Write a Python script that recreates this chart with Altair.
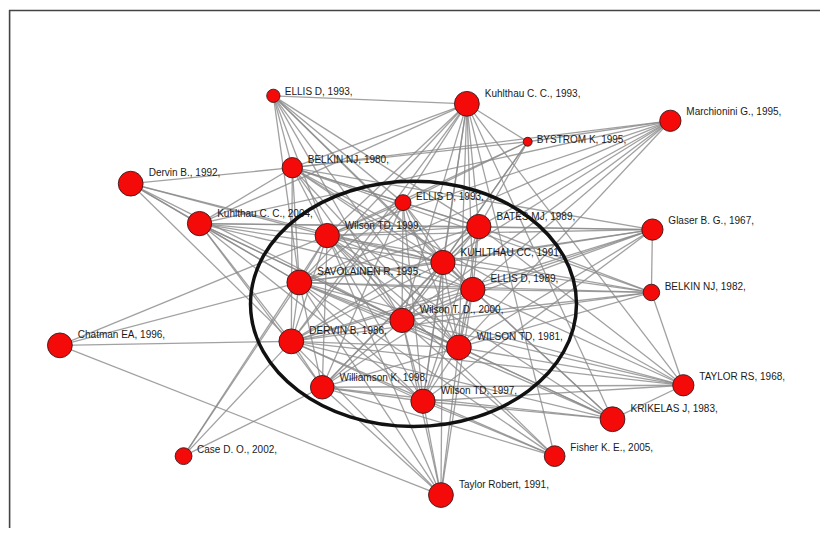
import altair as alt
import pandas as pd

# ---- data -------------------------------------------------------------
labels = [
    "ELLIS D, 1993,", "Kuhlthau C. C., 1993,", "Marchionini G., 1995,", "BYSTROM K, 1995,",
    "Dervin B., 1992,", "BELKIN NJ, 1980,", "Kuhlthau C. C., 2004,", "ELLIS D, 1993,",
    "Wilson TD, 1999,", "BATES MJ, 1989,", "Glaser B. G., 1967,", "KUHLTHAU CC, 1991,",
    "SAVOLAINEN R, 1995,", "ELLIS D, 1989,", "BELKIN NJ, 1982,", "Chatman EA, 1996,",
    "DERVIN B, 1986,", "Wilson T. D., 2000,", "WILSON TD, 1981,", "Williamson K, 1998,",
    "Wilson TD, 1997,", "TAYLOR RS, 1968,", "KRIKELAS J, 1983,", "Case D. O., 2002,",
    "Fisher K. E., 2005,", "Taylor Robert, 1991,",
]
node_x = [273, 467, 671, 528, 130, 292, 199, 403, 327, 479, 653, 443, 299, 473, 652, 59,
          291, 402, 459, 322, 423, 684, 613, 183, 555, 441]
node_y = [96, 104, 121, 142, 184, 168, 224, 203, 236, 227, 230, 263, 283, 290, 293, 346,
          342, 321, 348, 388, 402, 386, 420, 457, 457, 496]
node_r = [7.5, 14, 12, 5, 14, 11.5, 13.7, 9, 13.7, 13.7, 12, 13.7, 14, 13.7, 9.3, 14,
          14, 13.7, 14, 13.3, 13.7, 12, 14, 9.5, 11.7, 14]

core = [7, 8, 9, 11, 12, 13, 16, 17, 18, 19, 20]
outer_links = {
    0: [1, 5, 8, 9, 11, 13, 17, 18, 7, 12],
    1: [5, 8, 7, 9, 11, 12, 13, 17, 18, 20, 3, 21, 22, 24, 16, 6],
    2: [3, 9, 11, 13, 17, 8, 12, 6, 18, 5],
    3: [5, 8, 7, 9, 11, 17],
    4: [5, 6, 8, 12, 16, 17, 11],
    5: [6, 8, 7, 9, 11, 12, 13, 16, 17, 18, 10, 21, 14],
    6: [8, 12, 16, 17, 11, 9, 13, 18, 10, 19, 20],
    10: [9, 8, 11, 13, 17, 12, 16, 18, 20, 14],
    14: [21, 9, 11, 13, 17, 8, 12, 16, 18],
    15: [12, 16, 25, 8],
    21: [20, 18, 17, 13, 22, 12, 16, 19, 9],
    22: [20, 19, 16, 18, 17, 12, 8, 13, 11],
    23: [12, 16, 19, 8],
    24: [8, 17, 19, 12, 16, 20],
    25: [20, 19, 16, 17, 18, 13, 12, 11, 8],
}

ellipse_cx = [413.5]
ellipse_cy = [304.5]
ellipse_w = [326]

# ---- tables -----------------------------------------------------------
nodes = pd.DataFrame({"label": labels, "x": node_x, "y": node_y, "r": node_r})
nodes["area"] = 3.14159 * (2 * nodes["r"]) ** 2 / 4
nodes["lx"] = nodes["x"] + nodes["r"] + 4
nodes["ly"] = nodes["y"] - (nodes["r"] * 0.95 - 3)

pairs = []
for i in range(len(core)):
    for j in range(i + 1, len(core)):
        pairs.append((core[i], core[j]))
for a, bs in outer_links.items():
    for b in bs:
        pairs.append((a, b))
edges = pd.DataFrame({
    "x": [node_x[a] for a, b in pairs], "y": [node_y[a] for a, b in pairs],
    "x2": [node_x[b] for a, b in pairs], "y2": [node_y[b] for a, b in pairs],
})
ell = pd.DataFrame({"x": ellipse_cx, "y": ellipse_cy, "s": [w * w for w in ellipse_w]})
one = pd.DataFrame({"k": [0]})

W, H = 813, 520
xs = alt.Scale(domain=[8, 8 + W], nice=False, zero=False)
ys = alt.Scale(domain=[8, 8 + H], nice=False, zero=False, reverse=True)
X = lambda f: alt.X(f, type="quantitative", scale=xs, axis=None)
Y = lambda f: alt.Y(f, type="quantitative", scale=ys, axis=None)

edge_layer = alt.Chart(edges).mark_rule(color="#8a8a8a", strokeWidth=1.3, opacity=0.8).encode(
    x=X("x"), y=Y("y"), x2="x2", y2="y2")

node_layer = alt.Chart(nodes).mark_circle(
    color="#f50a0a", opacity=1, stroke="#3a1a1a", strokeWidth=0.9).encode(
    x=X("x"), y=Y("y"), size=alt.Size("area:Q", scale=None, legend=None))

label_layer = alt.Chart(nodes).mark_text(
    align="left", baseline="middle", font="Liberation Sans", fontSize=10,
    color="#1a1a1a").encode(x=X("lx"), y=Y("ly"), text="label:N")

ellipse_layer = alt.Chart(ell).mark_point(
    shape="M -1 0 A 1 0.752 0 1 0 1 0 A 1 0.752 0 1 0 -1 0 Z",
    filled=False, color="#111111", strokeWidth=3.5, opacity=1).encode(
    x=X("x"), y=Y("y"), size=alt.Size("s:Q", scale=None, legend=None))

border_top = alt.Chart(one).mark_rule(color="#444444", strokeWidth=1.6).encode(
    y=alt.value(2.5))
border_left = alt.Chart(one).mark_rule(color="#444444", strokeWidth=1.6).encode(
    x=alt.X(datum=8.6, type="quantitative", scale=xs, axis=None),
    y=alt.value(2), y2=alt.value(H))

chart = alt.layer(edge_layer, node_layer, label_layer, ellipse_layer, border_top, border_left).properties(
    width=W, height=H, autosize=alt.AutoSizeParams(type="fit", contains="padding"), padding=0
).configure_view(stroke="transparent", strokeWidth=0)

chart.save("out.html", embed_options={"renderer": "svg", "actions": False})
